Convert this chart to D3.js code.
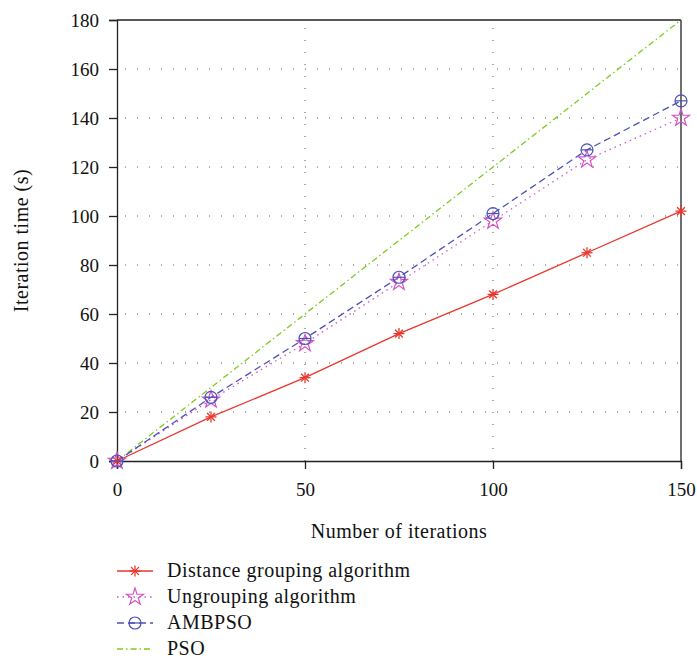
<!DOCTYPE html>
<html>
<head>
<meta charset="utf-8">
<script src="https://cdn.jsdelivr.net/npm/d3@7"></script>
<style>
  body { margin: 0; background: #fff; }
  text { font-family: "Liberation Serif", "DejaVu Serif", serif; fill: #111; }
</style>
</head>
<body>
<div id="chart"></div>
<script>
// data
const iterations = [0, 25, 50, 75, 100, 125, 150];
const distanceGrouping = [0, 18, 34, 52, 68, 85, 102];
const ungrouping = [0, 25, 48, 73, 98, 123, 140];
const ambpso = [0, 26, 50, 75, 101, 127, 147];
const pso = [0, 30, 60, 90, 120, 150, 180];
const xTicks = [0, 50, 100, 150];
const yTicks = [0, 20, 40, 60, 80, 100, 120, 140, 160, 180];

const series = [
    { name: "Distance grouping algorithm", values: distanceGrouping, color: "#e8372c", dash: null, marker: "asterisk" },
    { name: "Ungrouping algorithm", values: ungrouping, color: "#d255c4", dash: "1.5,4", marker: "star" },
    { name: "AMBPSO", values: ambpso, color: "#4a52b8", dash: "7,4", marker: "circle" },
    { name: "PSO", values: pso, color: "#7ccc1c", dash: "6,3,1.5,3", marker: null }
];

const W = 697, H = 661;
const margin = { top: 20, right: 16, bottom: 200, left: 117 };
const width = W - margin.left - margin.right,
    height = H - margin.top - margin.bottom;

const svg = d3.select("#chart").append("svg")
    .attr("width", W)
    .attr("height", H);

const g = svg.append("g")
    .attr("transform", "translate(" + margin.left + "," + margin.top + ")");

const x = d3.scaleLinear().domain([0, 150]).range([0, width]);
const y = d3.scaleLinear().domain([0, 180]).range([height, 0]);

// grid (dotted)
g.append("g").selectAll("line")
    .data(yTicks.filter(d => d > 0 && d < 180))
    .enter().append("line")
    .attr("x1", 0).attr("x2", width)
    .attr("y1", d => y(d)).attr("y2", d => y(d))
    .attr("stroke", "#555").attr("stroke-width", 1)
    .attr("stroke-dasharray", "1,11")
    .attr("stroke-dashoffset", -8);

g.append("g").selectAll("line")
    .data(xTicks.filter(d => d > 0 && d < 150))
    .enter().append("line")
    .attr("x1", d => x(d)).attr("x2", d => x(d))
    .attr("y1", height).attr("y2", 0)
    .attr("stroke", "#555").attr("stroke-width", 1)
    .attr("stroke-dasharray", "1,11");

// axes
const xAxis = d3.axisBottom(x).tickValues(xTicks).tickSize(8).tickPadding(14);
const yAxis = d3.axisLeft(y).tickValues(yTicks).tickSize(8).tickPadding(10);

g.append("g").attr("class", "x-axis")
    .attr("transform", "translate(0," + height + ")")
    .call(xAxis);
g.append("g").attr("class", "y-axis").call(yAxis);

g.selectAll(".tick text").style("font-size", "19px")
    .style("font-family", "'Liberation Serif', serif").attr("fill", "#111");
g.selectAll(".domain, .tick line").attr("stroke", "#222").attr("stroke-width", 1.3);

// box top and right
g.append("line").attr("x1", 0).attr("x2", width).attr("y1", 0).attr("y2", 0)
    .attr("stroke", "#222").attr("stroke-width", 1.3);
g.append("line").attr("x1", width).attr("x2", width).attr("y1", 0).attr("y2", height)
    .attr("stroke", "#222").attr("stroke-width", 1.3);

// axis titles
g.append("text")
    .attr("x", width / 2).attr("y", height + 77)
    .attr("text-anchor", "middle")
    .style("font-size", "20px")
    .style("letter-spacing", "0.5px")
    .text("Number of iterations");

g.append("text")
    .attr("transform", "translate(" + (-89) + "," + (height / 2) + ") rotate(-90)")
    .attr("text-anchor", "middle")
    .style("font-size", "20px")
    .style("letter-spacing", "0.5px")
    .text("Iteration time (s)");

// marker drawing
function drawMarker(sel, type, color) {
    if (type === "asterisk") {
        [0, 45, 90, 135].forEach(a => {
            sel.append("line")
                .attr("x1", -5.5).attr("x2", 5.5).attr("y1", 0).attr("y2", 0)
                .attr("transform", "rotate(" + a + ")")
                .attr("stroke", color).attr("stroke-width", 1.3);
        });
    } else if (type === "star") {
        sel.append("path")
            .attr("d", d3.symbol().type(d3.symbolStar).size(90)())
            .attr("fill", "none").attr("stroke", color).attr("stroke-width", 1.2);
    } else if (type === "circle") {
        sel.append("circle").attr("r", 6)
            .attr("fill", "none").attr("stroke", color).attr("stroke-width", 1.2);
        sel.append("line").attr("x1", -6).attr("x2", 6)
            .attr("stroke", color).attr("stroke-width", 1.2);
    }
}

const line = d3.line()
    .x((d, i) => x(iterations[i]))
    .y(d => y(d));

// PSO drawn first so others sit on top
[3, 0, 1, 2].forEach(k => {
    const s = series[k];
    g.append("path")
        .datum(s.values)
        .attr("fill", "none")
        .attr("stroke", s.color)
        .attr("stroke-width", 1.3)
        .attr("stroke-dasharray", s.dash)
        .attr("d", line);
});

[0, 1, 2].forEach(k => {
    const s = series[k];
    s.values.forEach((v, i) => {
        const m = g.append("g")
            .attr("transform", "translate(" + x(iterations[i]) + "," + y(v) + ")");
        drawMarker(m, s.marker, s.color);
    });
});

// legend
const legend = svg.append("g").attr("transform", "translate(117,571)");
series.forEach((s, i) => {
    const row = legend.append("g").attr("transform", "translate(0," + (i * 26) + ")");
    row.append("line")
        .attr("x1", 0).attr("x2", 36).attr("y1", 0).attr("y2", 0)
        .attr("stroke", s.color).attr("stroke-width", 1.3)
        .attr("stroke-dasharray", s.dash);
    if (s.marker) {
        const m = row.append("g").attr("transform", "translate(18,0)");
        drawMarker(m, s.marker, s.color);
    }
    row.append("text")
        .attr("x", 50).attr("y", 6)
        .style("font-size", "20px")
        .style("letter-spacing", "0.5px")
        .text(s.name);
});
</script>
</body>
</html>
